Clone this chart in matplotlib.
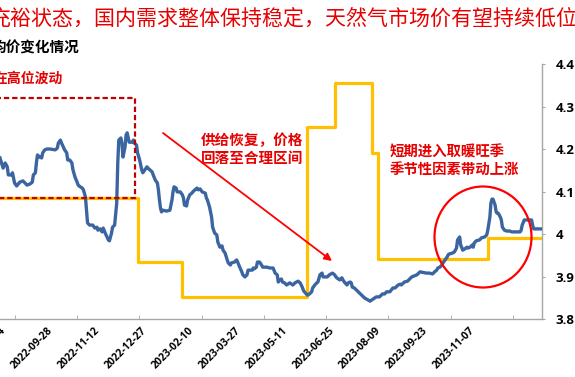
import matplotlib
matplotlib.use("Agg")
import matplotlib.pyplot as plt
import matplotlib.dates as mdates
import pandas as pd
from matplotlib.patches import Ellipse, Rectangle, FancyArrowPatch

plt.rcParams['font.family'] = ['Noto Sans CJK SC', 'DejaVu Sans']

# ---------------- data ----------------
base_date = "2022-08-10"
day_offset = [0, 3, 5, 7, 8, 11, 12, 14, 16, 19, 22, 26, 29, 31, 32, 34, 35, 36, 38, 40,
              41, 43, 45, 48, 53, 55, 56, 58, 59, 60, 62, 64, 65, 67, 69, 70, 72, 74, 75, 77,
              79, 80, 81, 82, 83, 84, 86, 89, 91, 93, 94, 96, 98, 99, 101, 103, 104, 105, 107, 108,
              110, 112, 113, 114, 116, 117, 118, 120, 121, 122, 124, 127, 128, 129, 131, 132, 134, 136, 137, 139,
              141, 142, 146, 147, 149, 151, 152, 153, 154, 155, 156, 160, 163, 165, 166, 167, 169, 170, 173, 175,
              176, 177, 179, 180, 182, 184, 185, 187, 189, 190, 192, 194, 197, 198, 199, 201, 203, 204, 206, 208,
              209, 211, 213, 214, 216, 218, 219, 221, 222, 225, 227, 228, 230, 232, 233, 235, 237, 238, 242, 243,
              244, 246, 247, 249, 251, 252, 256, 259, 262, 264, 266, 267, 268, 270, 271, 273, 275, 278, 281, 283,
              286, 288, 290, 291, 292, 295, 297, 299, 300, 302, 304, 305, 307, 309, 310, 314, 316, 319, 321, 323,
              326, 328, 329, 331, 333, 334, 336, 337, 338, 340, 342, 345, 347, 350, 353, 355, 358, 361, 364, 367,
              369, 371, 374, 377, 379, 382, 384, 385, 388, 391, 393, 395, 400, 403, 409, 412, 415, 417, 419, 420,
              422, 424, 425, 427, 429, 430, 431, 434, 436, 438, 439, 441, 442, 444, 446, 448, 449, 451, 453, 454,
              455, 457, 460, 462, 465, 467, 468, 470, 471, 472, 473, 475, 476, 477, 478, 480, 481, 482, 484, 486,
              489, 491, 499, 500, 501, 503, 510, 511, 512, 520]
price = [4.179, 4.155, 4.167, 4.158, 4.139, 4.139, 4.144, 4.120, 4.113, 4.122, 4.125, 4.115, 4.118, 4.122, 4.139, 4.144, 4.169, 4.186, 4.181, 4.179,
         4.191, 4.198, 4.200, 4.200, 4.198, 4.202, 4.214, 4.221, 4.214, 4.209, 4.198, 4.191, 4.174, 4.174, 4.167, 4.151, 4.134, 4.122, 4.115, 4.111,
         4.108, 4.104, 4.096, 4.087, 4.056, 4.026, 4.021, 4.021, 4.014, 4.016, 4.009, 4.012, 4.005, 4.014, 4.002, 3.991, 3.986, 3.984, 4.002, 4.016,
         4.021, 4.073, 4.167, 4.221, 4.226, 4.214, 4.181, 4.205, 4.233, 4.238, 4.216, 4.216, 4.221, 4.214, 4.209, 4.191, 4.174, 4.151, 4.144, 4.151,
         4.158, 4.155, 4.146, 4.139, 4.127, 4.120, 4.104, 4.080, 4.061, 4.052, 4.056, 4.054, 4.056, 4.080, 4.099, 4.111, 4.108, 4.099, 4.099, 4.092,
         4.085, 4.068, 4.066, 4.080, 4.092, 4.096, 4.099, 4.104, 4.108, 4.104, 4.106, 4.099, 4.096, 4.085, 4.080, 4.064, 4.040, 4.016, 4.002, 3.998,
         3.981, 3.969, 3.972, 3.962, 3.955, 3.939, 3.932, 3.927, 3.932, 3.934, 3.939, 3.934, 3.922, 3.911, 3.904, 3.899, 3.904, 3.915, 3.915, 3.920,
         3.918, 3.922, 3.934, 3.934, 3.927, 3.922, 3.922, 3.920, 3.920, 3.908, 3.904, 3.887, 3.892, 3.894, 3.887, 3.885, 3.880, 3.885, 3.880, 3.885,
         3.889, 3.885, 3.875, 3.868, 3.864, 3.856, 3.859, 3.864, 3.873, 3.880, 3.885, 3.887, 3.904, 3.908, 3.899, 3.899, 3.904, 3.908, 3.904, 3.897,
         3.892, 3.897, 3.892, 3.885, 3.880, 3.885, 3.887, 3.885, 3.875, 3.873, 3.868, 3.861, 3.856, 3.849, 3.845, 3.842, 3.847, 3.852, 3.852, 3.859,
         3.859, 3.864, 3.864, 3.873, 3.873, 3.880, 3.882, 3.880, 3.887, 3.889, 3.894, 3.899, 3.904, 3.911, 3.908, 3.908, 3.906, 3.911, 3.915, 3.920,
         3.922, 3.927, 3.932, 3.939, 3.946, 3.951, 3.953, 3.955, 3.958, 3.967, 3.986, 3.993, 3.974, 3.962, 3.965, 3.969, 3.967, 3.969, 3.974, 3.969,
         3.979, 3.984, 3.986, 3.991, 3.993, 3.998, 4.009, 4.040, 4.073, 4.082, 4.082, 4.068, 4.052, 4.049, 4.049, 4.040, 4.033, 4.016, 4.009, 4.007,
         4.007, 4.005, 4.005, 4.009, 4.021, 4.033, 4.033, 4.021, 4.012, 4.012]

step_day_offset = [-40, 132, 175, 295, 321, 357, 363, 468, 520]
step_price = [4.085, 3.934, 3.851, 4.252, 4.355, 4.191, 3.941, 3.991, 3.991]

xtick_labels = ["2022-08-14", "2022-09-28", "2022-11-12", "2022-12-27", "2023-02-10",
                "2023-03-27", "2023-05-11", "2023-06-25", "2023-08-09", "2023-09-23", "2023-11-07"]
ytick_values = [3.8, 3.9, 4.0, 4.1, 4.2, 4.3, 4.4]
ytick_labels = ["3.8", "3.9", "4", "4.1", "4.2", "4.3", "4.4"]

headline = "充裕状态，国内需求整体保持稳定，天然气市场价有望持续低位运行"
subtitle = "均价变化情况"
box_note = "在高位波动"
note_mid = ["供给恢复，价格", "回落至合理区间"]
note_right = ["短期进入取暖旺季", "季节性因素带动上涨"]

# ---------------- figure ----------------
W, H = 575, 377
fig = plt.figure(figsize=(W / 100, H / 100), dpi=100)
fig.patch.set_facecolor("white")


def fx(x):
    return x / W


def fy(y):
    return 1 - y / H


ax = fig.add_axes([fx(-40), fy(319), 582 / W, 255 / H])
ax.set_facecolor("none")

base = pd.Timestamp(base_date)
dates = base + pd.to_timedelta(day_offset, unit="D")
step_dates = base + pd.to_timedelta(step_day_offset, unit="D")

ax.plot(step_dates, step_price, drawstyle="steps-post", color="#FFC000", lw=2.3, zorder=2)
ax.plot(dates, price, color="#3A65A0", lw=2.4, zorder=3, solid_joinstyle="round")

x0 = mdates.date2num(base - pd.Timedelta(days=38.35))
x1 = mdates.date2num(base + pd.Timedelta(days=520))
ax.set_xlim(x0, x1)
ax.set_ylim(3.8, 4.4)

for s in ["top", "left"]:
    ax.spines[s].set_visible(False)
for s in ["right", "bottom"]:
    ax.spines[s].set_color("#A6A6A6")
    ax.spines[s].set_linewidth(1.0)

ax.yaxis.tick_right()
ax.set_yticks(ytick_values)
ax.set_yticklabels(ytick_labels, fontsize=9.5, fontweight="bold", family=["Open Sans", "DejaVu Sans"])
ax.tick_params(axis="y", direction="out", length=2.5, color="#A6A6A6", pad=7.5)

ax.set_xticks(pd.to_datetime(xtick_labels))
ax.set_xticklabels(xtick_labels, fontsize=7.5, fontweight="bold", family=["Open Sans", "DejaVu Sans"])
ax.tick_params(axis="x", which="major", length=0, pad=7)
minor_pos = [mdates.date2num(base + pd.Timedelta(days=14.4 + 59.7 * k)) for k in range(9)]
ax.set_xticks(minor_pos, minor=True)
ax.tick_params(axis="x", which="minor", direction="in", length=3, color="#A6A6A6")
for lbl in ax.get_xticklabels():
    lbl.set_rotation(45)
    lbl.set_ha("right")
    lbl.set_va("center")
    lbl.set_rotation_mode("anchor")

# ---------------- texts ----------------
fig.text(fx(-10), fy(18), headline, color="#E60000", fontsize=15.1, ha="left", va="center")
fig.text(fx(-8), fy(47.5), subtitle, color="black", fontsize=10.5, fontweight="bold", ha="left", va="center")
fig.text(fx(-6), fy(78.5), box_note, color="#E60000", fontsize=10, fontweight="bold", ha="left", va="center")

for i, t in enumerate(note_mid):
    fig.text(fx(201), fy(140 + 18 * i), t, color="#E60000", fontsize=10.5, fontweight="bold",
             ha="left", va="center")
for i, t in enumerate(note_right):
    fig.text(fx(390), fy(152.5 + 17.5 * i), t, color="#E60000", fontsize=10.4, fontweight="bold",
             ha="left", va="center")

# dashed box
fig.add_artist(Rectangle((fx(-20), fy(198)), fx(155), 100 / H, transform=fig.transFigure,
                         fill=False, edgecolor="#C00000", lw=1.6, linestyle=(0, (2.4, 1.3)), zorder=5))
# arrow
fig.add_artist(FancyArrowPatch((fx(163), fy(133)), (fx(332), fy(261)), transform=fig.transFigure,
                               arrowstyle="-|>", mutation_scale=11, color="#FF0000", lw=1.3,
                               shrinkA=0, shrinkB=0, zorder=5))
# circle
fig.add_artist(Ellipse((fx(483), fy(237)), 97 / W, 101 / H, transform=fig.transFigure,
                       fill=False, edgecolor="#FF0000", lw=1.6, zorder=5))

fig.savefig("out.png", dpi=100)
